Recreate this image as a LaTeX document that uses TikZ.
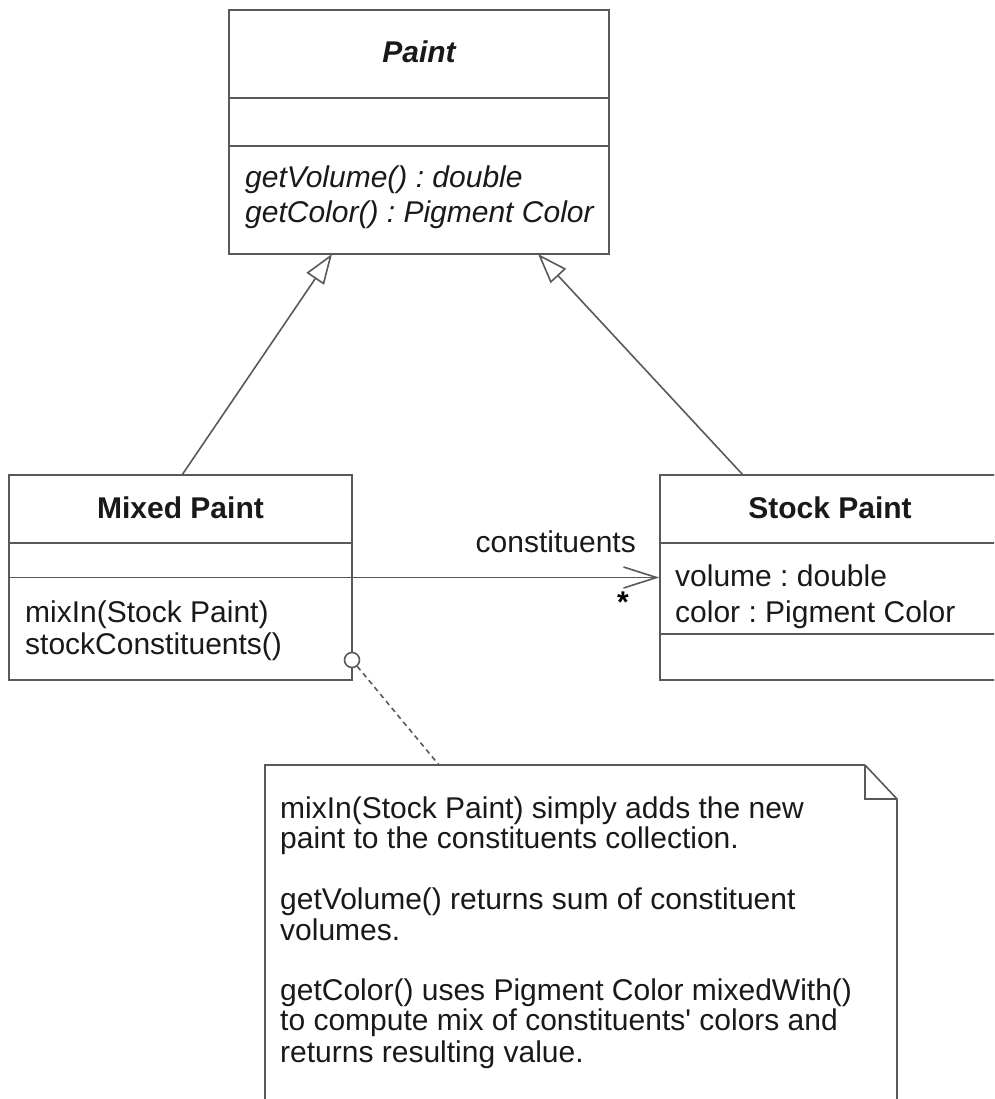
\documentclass[tikz,border=0pt]{standalone}
\usepackage{fontspec}
\setmainfont{Liberation Sans}[Ligatures=TeXOff]
\usetikzlibrary{arrows.meta}
\frenchspacing
\begin{document}
\begin{tikzpicture}[x=1pt,y=-1pt,
  line/.style={draw=black!65, line width=1.6pt},
  box/.style={line, rectangle, inner sep=0pt},
  txt/.style={inner sep=0pt, anchor=base west, font=\fontsize{30}{30}\selectfont, text=black!90},
  ttl/.style={inner sep=0pt, anchor=base, font=\fontsize{30}{30}\selectfont\bfseries, text=black!90},
  gen/.style={line, -{Triangle[open, length=30pt, width=21pt, line width=1.6pt]}},
  assoc/.style={line, -{Straight Barb[length=33pt, width=21pt, line width=1.6pt]}},
  dashline/.style={line, dash pattern=on 5pt off 4pt}
]
\useasboundingbox (0,0) rectangle (994,1099);
\clip (0,0) rectangle (994,1099);
% Paint
\node[box, minimum width=380pt, minimum height=244pt] (paint) at (419,132) {};
\draw[line] (229,98) -- (609,98);
\draw[line] (229,146) -- (609,146);
\node[ttl, font=\fontsize{30}{30}\selectfont\bfseries\itshape] (paintT) at (419,63) {Paint};
\node[txt, font=\fontsize{30}{30}\selectfont\itshape] (pm1) at (245,188) {getVolume() : double};
\node[txt, font=\fontsize{30}{30}\selectfont\itshape] (pm2) at (245,223) {getColor() : Pigment Color};
% Mixed Paint
\node[box, minimum width=343pt, minimum height=205pt] (mixed) at (180.5,577.5) {};
\draw[line] (9,543) -- (352,543);
\draw[line] (9,577.5) -- (352,577.5);
\node[ttl] (mixedT) at (180.5,518) {Mixed Paint};
\node[txt] (mm1) at (25,622) {mixIn(Stock Paint)};
\node[txt] (mm2) at (25,654) {stockConstituents()};
% Stock Paint
\node[box, minimum width=340pt, minimum height=205pt] (stock) at (830,577.5) {};
\draw[line] (660,543) -- (1000,543);
\draw[line] (660,634) -- (1000,634);
\node[ttl] (stockT) at (830,518) {Stock Paint};
\node[txt] (sa1) at (675,586) {volume : double};
\node[txt] (sa2) at (675,622) {color : Pigment Color};
% generalizations
\coordinate (g1) at (332,254);
\coordinate (g2) at (538,254);
\coordinate (m1) at (182,475);
\coordinate (s1) at (743,475);
\draw[gen] (m1) -- (g1);
\draw[gen] (s1) -- (g2);
% association
\draw[assoc] (mixed.east) -- (stock.west);
\node[txt, anchor=base east] (role) at (636,552) {constituents};
\node[inner sep=0pt, font=\fontsize{30}{30}\selectfont\bfseries] (mult) at (623,602) {*};
% note
\draw[line] (865,765) -- (265,765) -- (265,1110);
\draw[line] (865,765) -- (897,799) -- (897,1110);
\draw[line] (865,765) -- (865,799) -- (897,799);
\coordinate (notetop) at (439,765);
\node[circle, line, fill=white, minimum size=15pt, inner sep=0pt] (circ) at (352,660) {};
\draw[dashline] (circ) -- (notetop);
\node[txt] (n1) at (280,818) {mixIn(Stock Paint) simply adds the new};
\node[txt] (n2) at (280,848) {paint to the constituents collection.};
\node[txt] (n3) at (280,909) {getVolume() returns sum of constituent};
\node[txt] (n4) at (280,940) {volumes.};
\node[txt] (n5) at (280,1000) {getColor() uses Pigment Color mixedWith()};
\node[txt] (n6) at (280,1030) {to compute mix of constituents' colors and};
\node[txt] (n7) at (280,1062) {returns resulting value.};
\end{tikzpicture}
\end{document}
